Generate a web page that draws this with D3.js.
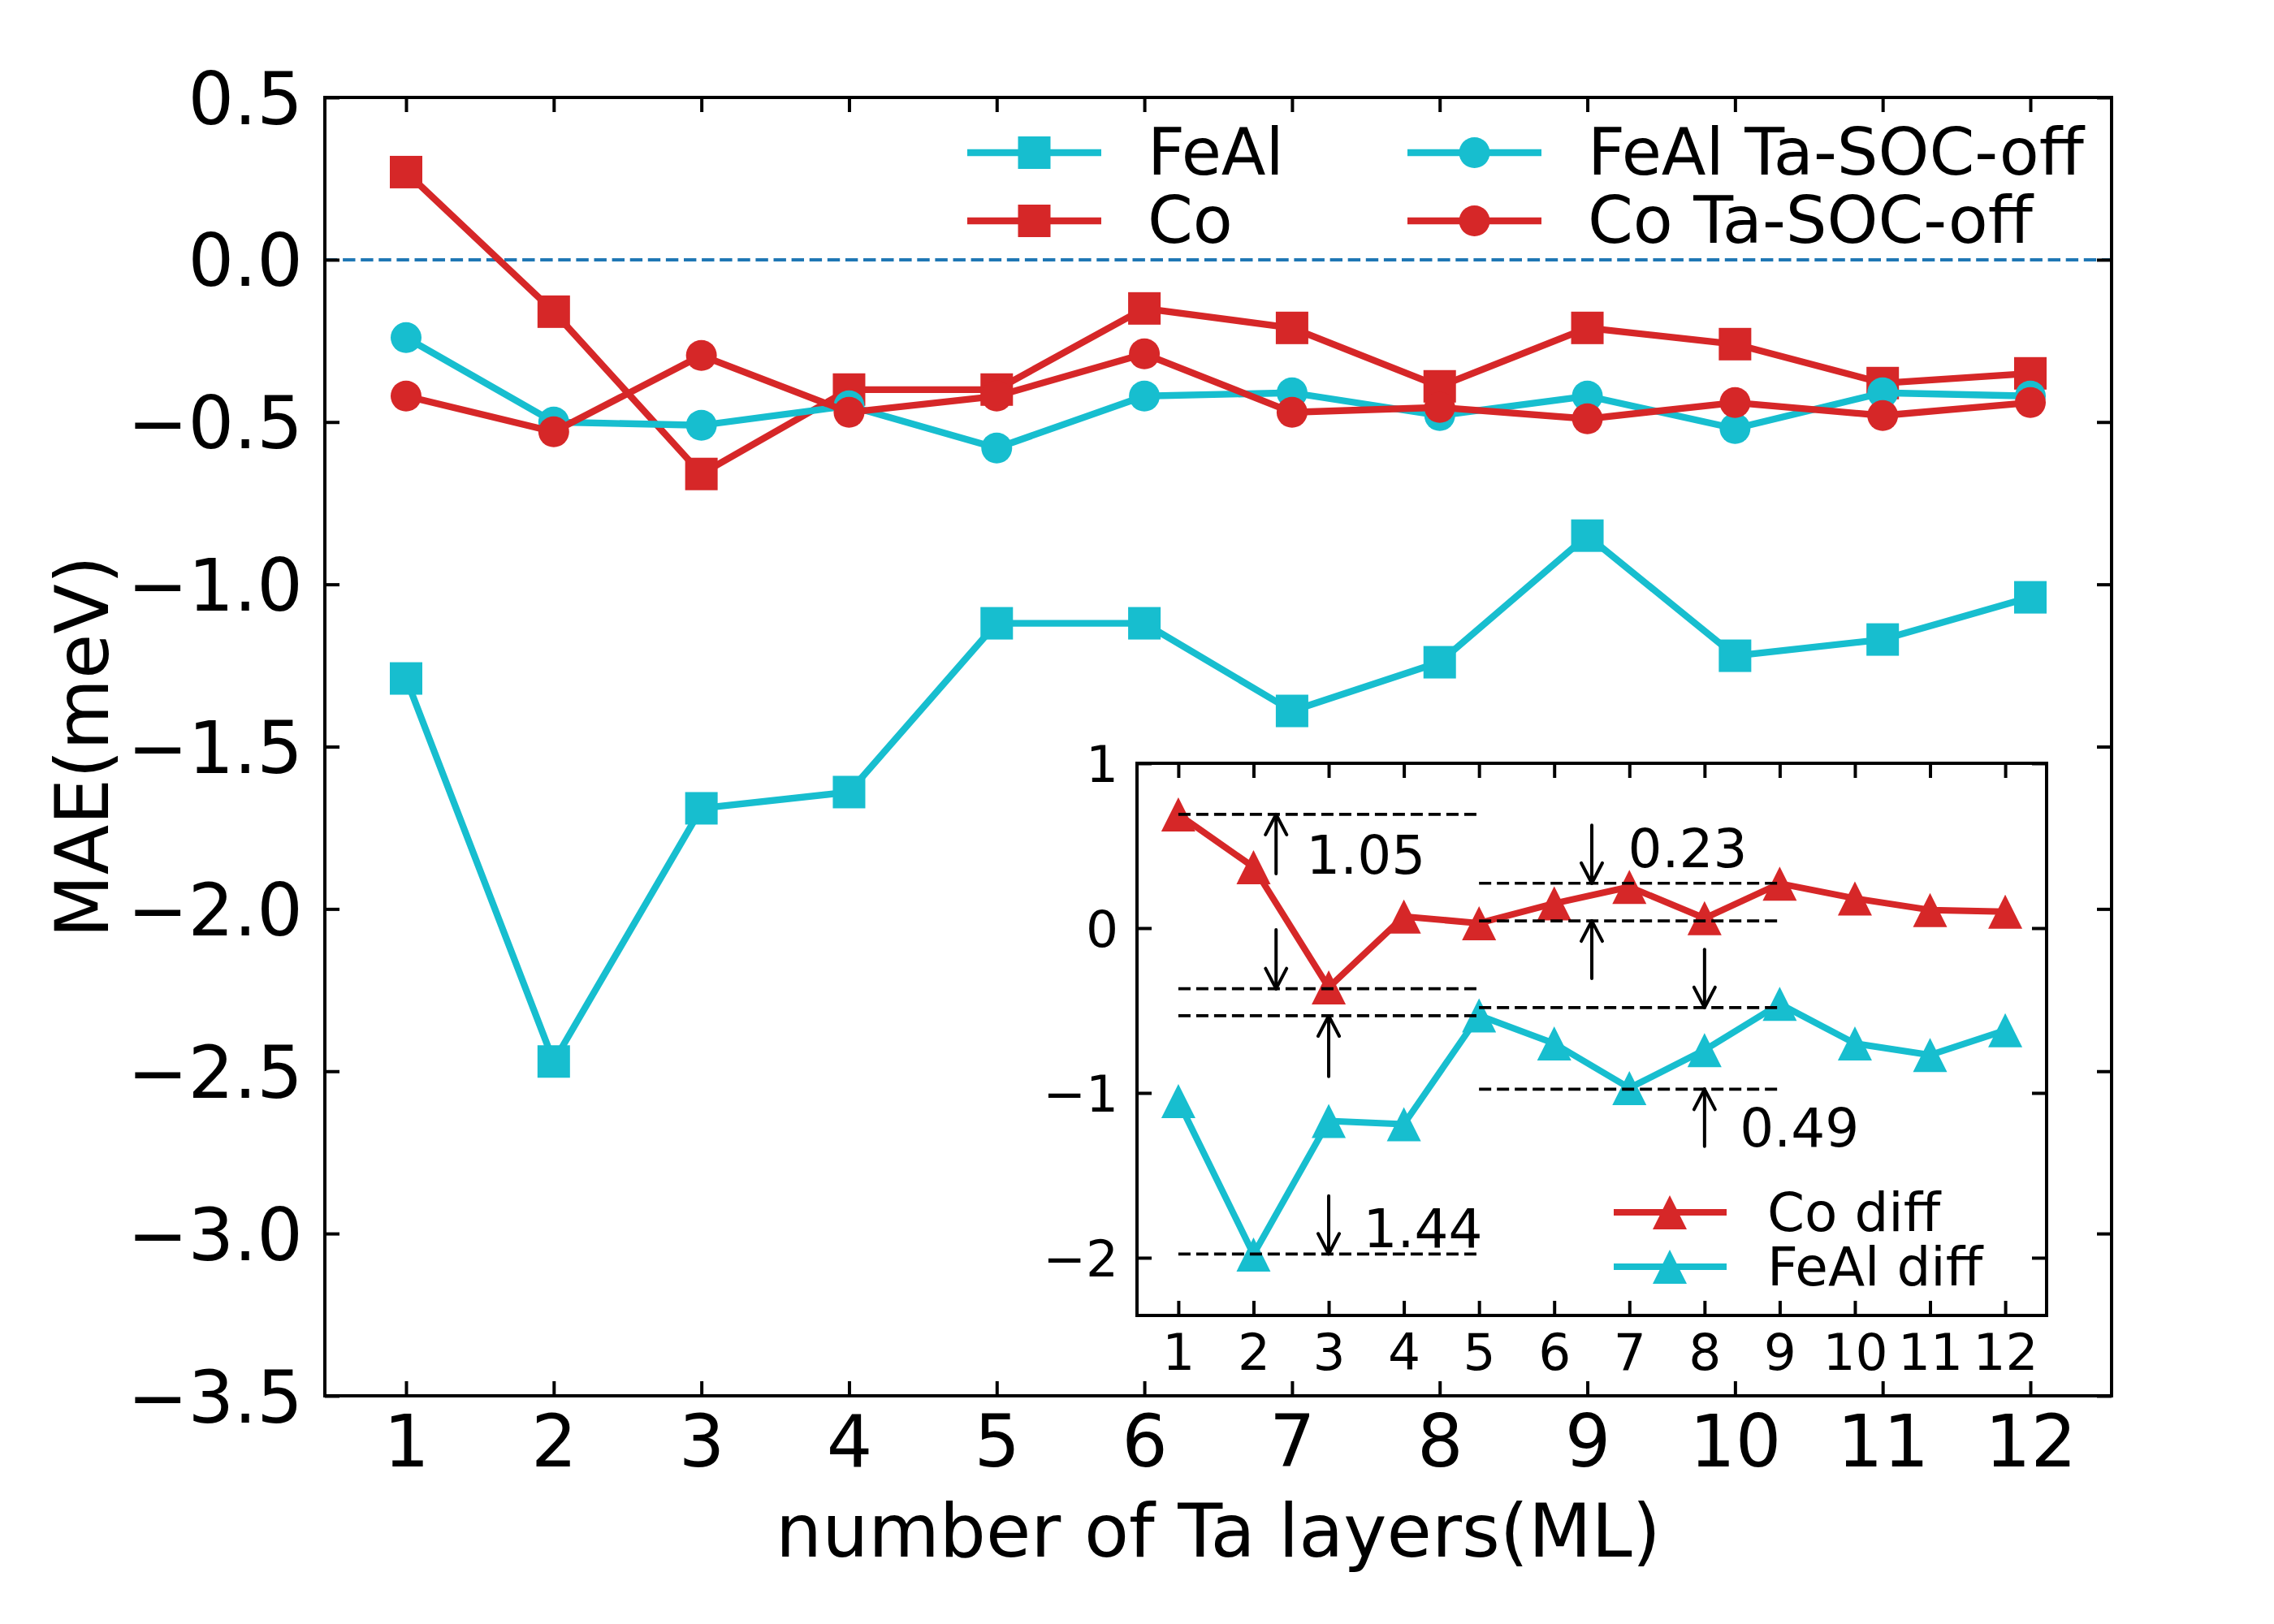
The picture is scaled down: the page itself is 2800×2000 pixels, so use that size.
<!DOCTYPE html>
<html>
<head>
<meta charset="utf-8">
<script src="https://cdn.jsdelivr.net/npm/d3@7"></script>
<style>
  body { margin: 0; background: #fff; }
  svg { display: block; font-family: "DejaVu Sans", sans-serif; }
</style>
</head>
<body>
<div id="chart"></div>
<script>
// number of Ta layers
const layers = [1, 2, 3, 4, 5, 6, 7, 8, 9, 10, 11, 12]

// main panel, MAE (meV)
const feal    = [-1.29, -2.47, -1.69, -1.64, -1.12, -1.12, -1.39, -1.24, -0.85, -1.22, -1.17, -1.04]
const co      = [0.27, -0.16, -0.66, -0.40, -0.40, -0.15, -0.21, -0.39, -0.21, -0.26, -0.38, -0.35]
const fealOff = [-0.24, -0.50, -0.51, -0.45, -0.58, -0.42, -0.41, -0.48, -0.42, -0.52, -0.41, -0.42]
const coOff   = [-0.42, -0.53, -0.295, -0.47, -0.42, -0.29, -0.47, -0.455, -0.49, -0.44, -0.48, -0.44]

// inset, SOC on minus SOC off
const coDiff   = [0.69, 0.37, -0.36, 0.07, 0.03, 0.15, 0.25, 0.06, 0.27, 0.18, 0.11, 0.10]
const fealDiff = [-1.05, -1.98, -1.17, -1.19, -0.53, -0.70, -0.97, -0.74, -0.46, -0.70, -0.77, -0.62]

const mainYTicks = [0.5, 0, -0.5, -1, -1.5, -2, -2.5, -3, -3.5]
const insetYTicks = [1, 0, -1, -2]

// dashed guide levels in the inset (left block spans x 1..5, right block 5..9)
const leftLevels  = [0.69, -0.368, -0.532, -1.977]
const rightLevels = [0.272, 0.044, -0.482, -0.977]

// arrows: x position, tail value, head value
const arrowX    = [2.3, 2.3, 3.0, 3.0, 6.5, 6.5, 8.0, 8.0]
const arrowFrom = [0.33, -0.01, -0.90, -1.625, 0.624, -0.306, -0.13, -1.324]
const arrowTo   = [0.69, -0.368, -0.532, -1.977, 0.272, 0.044, -0.482, -0.977]

const gapLabels = ["1.05", "0.23", "0.49", "1.44"]
const gapLabelX = [2.7, 6.98, 8.47, 3.46]
const gapLabelY = [0.33, 0.37, -1.327, -1.937]

const cyan = "#17becf"
const red = "#d62728"

const W = 2800, H = 2000

const svg = d3.select("#chart").append("svg")
  .attr("width", W).attr("height", H)
  .attr("viewBox", `0 0 ${W} ${H}`)

svg.append("rect").attr("width", W).attr("height", H).attr("fill", "#fff")

function markerShape(g, type, cx, cy, color, size) {
  if (type === "square") {
    g.append("rect")
      .attr("x", cx - size / 2).attr("y", cy - size / 2)
      .attr("width", size).attr("height", size)
      .attr("fill", color)
  } else if (type === "circle") {
    g.append("circle")
      .attr("cx", cx).attr("cy", cy).attr("r", size / 2)
      .attr("fill", color)
  } else {
    const h = size / 2
    g.append("path")
      .attr("d", `M${cx},${cy - h}L${cx + h},${cy + h}L${cx - h},${cy + h}Z`)
      .attr("fill", color)
  }
}

// frame plus inward ticks on all four sides
function drawFrame(g, xs, ys, xTicks, yTicks, yFmt, fontSize, xPad, yPad) {
  const [x0, x1] = xs.range()
  const [y0, y1] = ys.range()  // y0 bottom, y1 top
  const tick = 18

  const styleAxis = sel => {
    sel.attr("font-family", null).attr("font-size", null)
    sel.select(".domain").remove()
    sel.selectAll(".tick line").attr("stroke", "#000").attr("stroke-width", 4)
    sel.selectAll(".tick text").attr("fill", "#000").style("font-size", fontSize + "px")
  }

  g.append("g").attr("transform", `translate(0,${y0})`)
    .call(d3.axisBottom(xs).tickValues(xTicks).tickFormat(d3.format("d"))
      .tickSizeInner(-tick).tickSizeOuter(0).tickPadding(xPad))
    .call(styleAxis)

  g.append("g").attr("transform", `translate(0,${y1})`)
    .call(d3.axisTop(xs).tickValues(xTicks).tickFormat("")
      .tickSizeInner(-tick).tickSizeOuter(0))
    .call(styleAxis)

  const left = g.append("g").attr("transform", `translate(${x0},0)`)
    .call(d3.axisLeft(ys).tickValues(yTicks).tickFormat(yFmt)
      .tickSizeInner(-tick).tickSizeOuter(0).tickPadding(yPad))
    .call(styleAxis)
  left.selectAll(".tick text").attr("dy", "0.36em")

  g.append("g").attr("transform", `translate(${x1},0)`)
    .call(d3.axisRight(ys).tickValues(yTicks).tickFormat("")
      .tickSizeInner(-tick).tickSizeOuter(0))
    .call(styleAxis)

  g.append("rect")
    .attr("x", x0).attr("y", y1)
    .attr("width", x1 - x0).attr("height", y0 - y1)
    .attr("fill", "none").attr("stroke", "#000").attr("stroke-width", 4)
}

// ---------- main panel ----------
const x = d3.scaleLinear().domain([0.45, 12.55]).range([400, 2600])
const y = d3.scaleLinear().domain([-3.5, 0.5]).range([1719, 120])

const main = svg.append("g")

main.append("line")
  .attr("x1", x.range()[0]).attr("x2", x.range()[1])
  .attr("y1", y(0)).attr("y2", y(0))
  .attr("stroke", "#1f77b4").attr("stroke-width", 4)
  .attr("stroke-dasharray", "15.4,6.7")

const mainSeries = [
  { name: "FeAl", values: feal, color: cyan, marker: "square" },
  { name: "Co", values: co, color: red, marker: "square" },
  { name: "FeAl Ta-SOC-off", values: fealOff, color: cyan, marker: "circle" },
  { name: "Co Ta-SOC-off", values: coOff, color: red, marker: "circle" }
]
const markerSize = { square: 40, circle: 38, triangle: 42 }

const line = (xs, ys) => d3.line().x((d, i) => xs(layers[i])).y(d => ys(d))

mainSeries.forEach(s => {
  const g = main.append("g")
  g.append("path")
    .attr("d", line(x, y)(s.values))
    .attr("fill", "none").attr("stroke", s.color)
    .attr("stroke-width", 8.3).attr("stroke-linejoin", "round")
  s.values.forEach((v, i) => markerShape(g, s.marker, x(layers[i]), y(v), s.color, markerSize[s.marker]))
})

drawFrame(main, x, y, layers, mainYTicks, d3.format(".1f"), 89, 24, 27)

main.append("text")
  .attr("x", (x.range()[0] + x.range()[1]) / 2).attr("y", 1917)
  .attr("text-anchor", "middle").attr("font-size", 90)
  .text("number of Ta layers(ML)")

main.append("text")
  .attr("transform", `translate(133,${(y.range()[0] + y.range()[1]) / 2}) rotate(-90)`)
  .attr("text-anchor", "middle").attr("font-size", 90)
  .text("MAE(meV)")

// legend, two columns, no frame
const legend = main.append("g")
const legCols = [1191, 1733]
const legRows = [188, 272]
mainSeries.forEach((s, i) => {
  const lx = legCols[Math.floor(i / 2)]
  const ly = legRows[i % 2]
  legend.append("line")
    .attr("x1", lx).attr("x2", lx + 165).attr("y1", ly).attr("y2", ly)
    .attr("stroke", s.color).attr("stroke-width", 8.3)
  markerShape(legend, s.marker, lx + 82.5, ly, s.color, markerSize[s.marker])
  legend.append("text")
    .attr("x", lx + 222).attr("y", ly + 27)
    .attr("font-size", 80)
    .text(s.name)
})

// ---------- inset ----------
const ix = d3.scaleLinear().domain([0.45, 12.55]).range([1400, 2520])
const iy = d3.scaleLinear().domain([-2.35, 1.0]).range([1620, 940])

const inset = svg.append("g")
inset.append("rect")
  .attr("x", 1400).attr("y", 940).attr("width", 1120).attr("height", 680)
  .attr("fill", "#fff")

const insetSeries = [
  { name: "Co diff", values: coDiff, color: red },
  { name: "FeAl diff", values: fealDiff, color: cyan }
]

insetSeries.forEach(s => {
  const g = inset.append("g")
  g.append("path")
    .attr("d", line(ix, iy)(s.values))
    .attr("fill", "none").attr("stroke", s.color)
    .attr("stroke-width", 8).attr("stroke-linejoin", "round")
  s.values.forEach((v, i) => markerShape(g, "triangle", ix(layers[i]), iy(v), s.color, markerSize.triangle))
})

const guides = inset.append("g")
  .attr("stroke", "#000").attr("stroke-width", 3.7).attr("stroke-dasharray", "15,7")
leftLevels.forEach(v => guides.append("line")
  .attr("x1", ix(1)).attr("x2", ix(5)).attr("y1", iy(v)).attr("y2", iy(v)))
rightLevels.forEach(v => guides.append("line")
  .attr("x1", ix(5)).attr("x2", ix(9)).attr("y1", iy(v)).attr("y2", iy(v)))

const arrowG = inset.append("g")
  .attr("stroke", "#000").attr("stroke-width", 4).attr("fill", "none")
  .attr("stroke-linecap", "round").attr("stroke-linejoin", "round")
arrowX.forEach((ax, i) => {
  const px = ix(ax), y0 = iy(arrowFrom[i]), y1 = iy(arrowTo[i])
  const dir = y1 < y0 ? 1 : -1
  arrowG.append("path").attr("d", `M${px},${y0}L${px},${y1}`)
  arrowG.append("path")
    .attr("d", `M${px - 13},${y1 + dir * 25}L${px},${y1}L${px + 13},${y1 + dir * 25}`)
})

gapLabels.forEach((t, i) => {
  inset.append("text")
    .attr("x", ix(gapLabelX[i])).attr("y", iy(gapLabelY[i]))
    .attr("font-size", 66)
    .text(t)
})

drawFrame(inset, ix, iy, layers, insetYTicks, d3.format("d"), 63, 22, 23)

const ilegRows = [1493, 1560]
insetSeries.forEach((s, i) => {
  const ly = ilegRows[i]
  inset.append("line")
    .attr("x1", 1987).attr("x2", 2126).attr("y1", ly).attr("y2", ly)
    .attr("stroke", s.color).attr("stroke-width", 8)
  markerShape(inset, "triangle", 2056, ly, s.color, markerSize.triangle)
  inset.append("text")
    .attr("x", 2176).attr("y", ly + 23)
    .attr("font-size", 66)
    .text(s.name)
})
</script>
</body>
</html>
